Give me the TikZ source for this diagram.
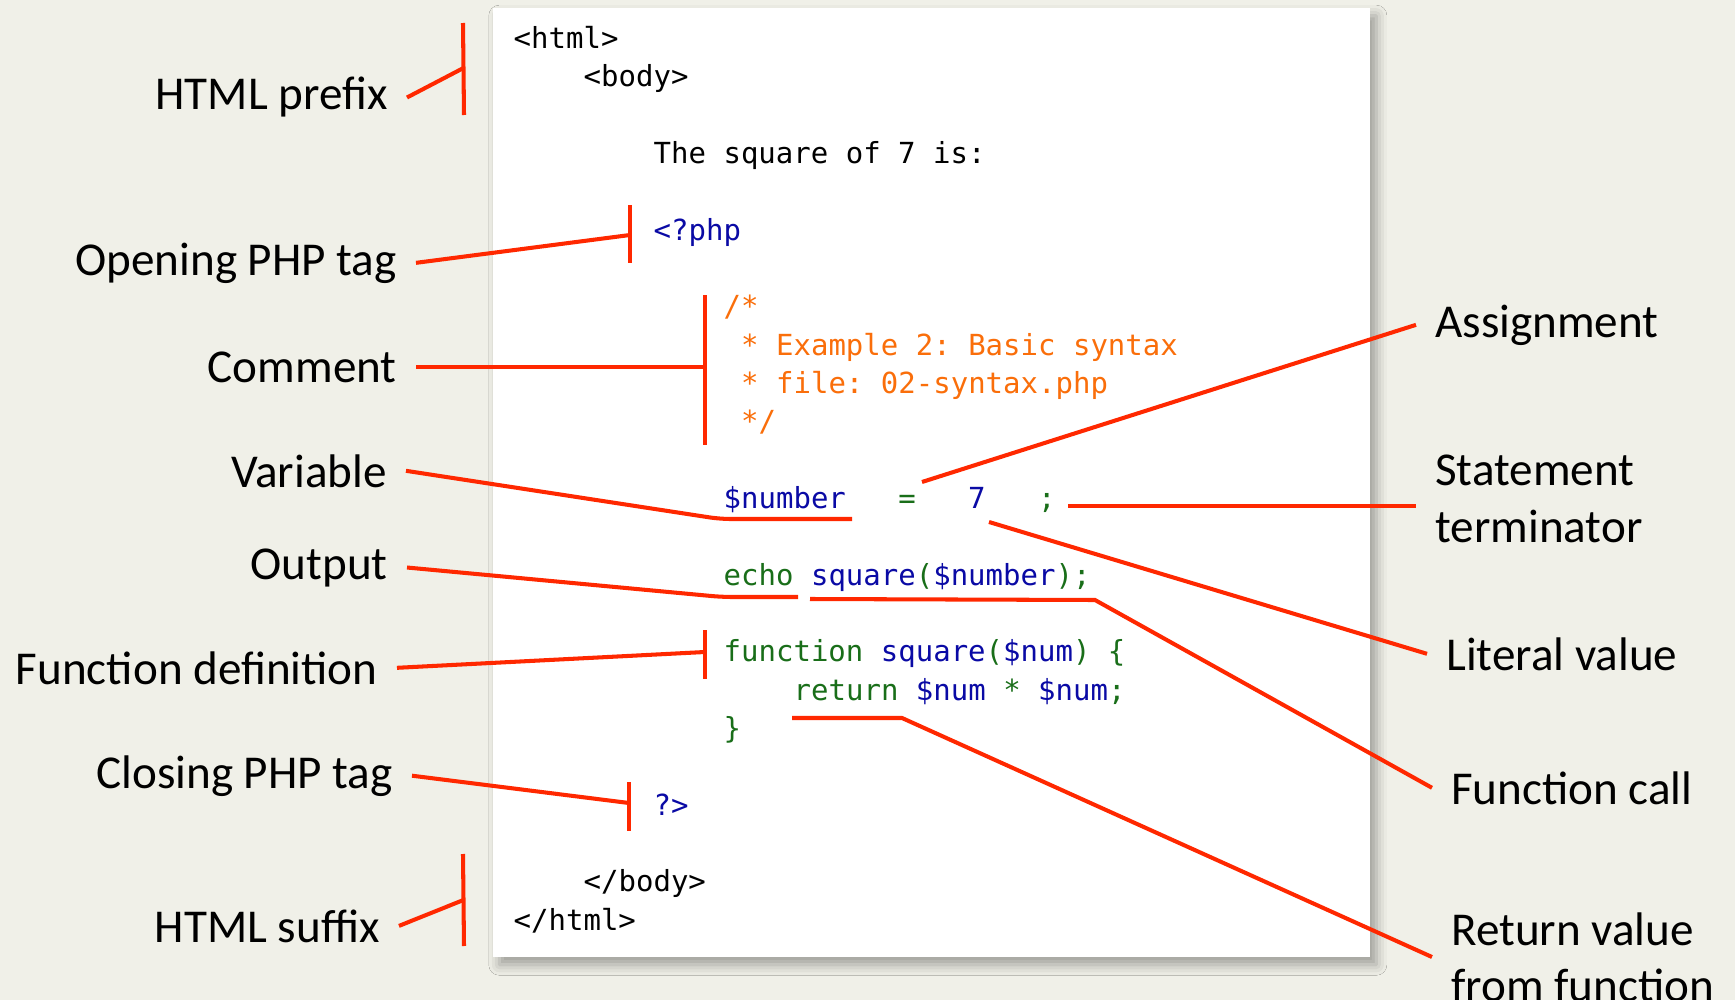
\documentclass[tikz,border=0pt]{standalone}
\usepackage{fontspec}
\setmainfont{Carlito}
\setmonofont{DejaVu Sans Mono}
\usepackage{xcolor}
\usetikzlibrary{shadows.blur}

\definecolor{slidebg}{RGB}{240,240,232}
\definecolor{callred}{RGB}{255,40,0}
\definecolor{phpblue}{RGB}{10,10,165}
\definecolor{phpgreen}{RGB}{25,110,25}
\definecolor{phporange}{RGB}{250,110,10}

\newcommand{\pv}[1]{\textcolor{phpblue}{#1}}
\newcommand{\pk}[1]{\textcolor{phpgreen}{#1}}
\newcommand{\pc}[1]{\textcolor{phporange}{#1}}

\begin{document}
\begin{tikzpicture}[x=0.01cm, y=-0.01cm,
  lab/.style={font=\fontsize{13.4}{16}\selectfont, inner sep=0pt, outer xsep=5.5pt},
  codeline/.style={font=\ttfamily\fontsize{8.25}{10}\selectfont, inner sep=0pt, anchor=base west},
  call/.style={callred, line width=1.15pt}]
  \fill[slidebg] (0,0) rectangle (1735,1000);
  \useasboundingbox (0,0) rectangle (1735,1000);
  % the code sheet
  \fill[white, blur shadow={shadow xshift=1.8pt, shadow yshift=-2.2pt, shadow blur radius=3pt, shadow opacity=35}]
    (493,8) rectangle (1370,957);
  \foreach \c/\n/\txt in {0/0/{<html>}, 4/1/{<body>}, 8/3/{The square of 7 is:},
      8/5/{\pv{<?php}}, 12/7/{\pc{/*}}, 13/8/{\pc{* Example 2: Basic syntax}},
      13/9/{\pc{* file: 02-syntax.php}}, 13/10/{\pc{*/}},
      12/12/{\pv{\$number}\ \ \ \pk{=}\ \ \ \pv{7}\ \ \ \pk{;}},
      12/14/{\pk{echo} \pv{square}\pk{(}\pv{\$number}\pk{);}},
      12/16/{\pk{function} \pv{square}\pk{(}\pv{\$num}\pk{) \{}},
      16/17/{\pk{return} \pv{\$num} \pk{*} \pv{\$num}\pk{;}},
      12/18/{\pk{\}}}, 8/20/{\pv{?>}}, 4/22/{</body>}, 0/23/{</html>}}
    \node[codeline] (code\n) at ({513+17.5*\c},{48.5+38.33*\n}) {\txt};

  % labels
  \node[lab, anchor=base east] (prefix) at (407,110) {HTML prefix};
  \node[lab, anchor=base east] (openphp) at (416,275) {Opening PHP tag};
  \node[lab, anchor=base east] (comment) at (416,382) {Comment};
  \node[lab, anchor=base east] (variable) at (406,487) {Variable};
  \node[lab, anchor=base east] (output) at (407,579) {Output};
  \node[lab, anchor=base east] (funcdef) at (397,684) {Function definition};
  \node[lab, anchor=base east] (closephp) at (412,788) {Closing PHP tag};
  \node[lab, anchor=base east] (suffix) at (399,942) {HTML suffix};
  \node[lab, anchor=base west] (assign) at (1416,337) {Assignment};
  \node[lab, anchor=west, align=left] (terminator) at (1416,499) {Statement\\terminator};
  \node[lab, anchor=base west] (literal) at (1427,670) {Literal value};
  \node[lab, anchor=base west] (funccall) at (1432,804) {Function call};
  \node[lab, anchor=west, align=left] (retval) at (1432,957) {Return value\\from function};

  % brackets and underlines
  \coordinate (preTop) at (463,23);   \coordinate (preBot) at (464,115);  \coordinate (preTick) at (463.5,68);
  \coordinate (openTop) at (630,205); \coordinate (openBot) at (630,263); \coordinate (openTick) at (630,235);
  \coordinate (cmtTop) at (705,295);  \coordinate (cmtBot) at (705,445);
  \coordinate (numL) at (720,519);    \coordinate (numR) at (852,519);
  \coordinate (eqTop) at (922,482);   \coordinate (semi) at (1068,506);   \coordinate (seven) at (989,522);
  \coordinate (echoL) at (722,597);   \coordinate (echoR) at (798,597);
  \coordinate (sqL) at (810,599);     \coordinate (sqR) at (1095,600);
  \coordinate (defTop) at (705,630);  \coordinate (defBot) at (705,679);  \coordinate (defTick) at (705,652);
  \coordinate (retL) at (792,718);    \coordinate (retR) at (902,718);
  \coordinate (closeTop) at (629,782); \coordinate (closeBot) at (629,831); \coordinate (closeTick) at (629,803);
  \coordinate (sufTop) at (463,854);  \coordinate (sufBot) at (464,946);  \coordinate (sufTick) at (463.5,900);

  \draw[call] (preTop) -- (preBot);
  \draw[call] (prefix.east) -- (preTick);
  \draw[call] (openTop) -- (openBot);
  \draw[call] (openphp.east) -- (openTick);
  \draw[call] (cmtTop) -- (cmtBot);
  \draw[call] (comment.east) -- (comment.east -| cmtTop);
  \draw[call, rounded corners=3pt] (variable.east) -- (numL) -- (numR);
  \draw[call] (eqTop) -- (assign.west);
  \draw[call] (semi) -- (semi -| terminator.west);
  \draw[call] (seven) -- (literal.west);
  \draw[call, rounded corners=3pt] (output.east) -- (echoL) -- (echoR);
  \draw[call] (sqL) -- (sqR) -- (funccall.west);
  \draw[call] (defTop) -- (defBot);
  \draw[call] (funcdef.east) -- (defTick);
  \draw[call] (retL) -- (retR) -- (retval.west);
  \draw[call] (closeTop) -- (closeBot);
  \draw[call] (closephp.east) -- (closeTick);
  \draw[call] (sufTop) -- (sufBot);
  \draw[call] (suffix.east) -- (sufTick);
\end{tikzpicture}
\end{document}
